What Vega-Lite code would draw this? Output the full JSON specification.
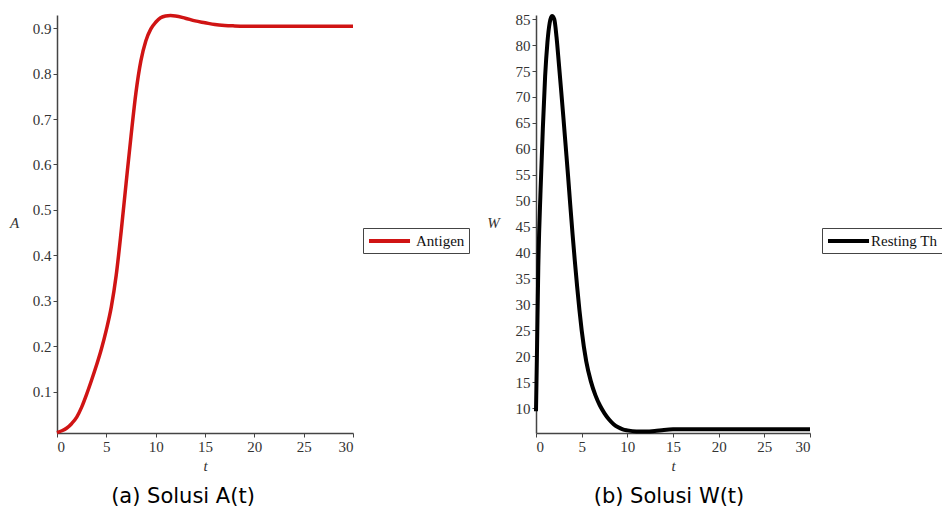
{
  "$schema": "https://vega.github.io/schema/vega-lite/v6.json",
  "background": "white",
  "padding": {"left": 9, "top": 8, "right": 0, "bottom": 0},
  "bounds": "flush",
  "spacing": 183,
  "datasets": {
    "antigen": [
      {"t": 0, "A": 0.010}, {"t": 0.5, "A": 0.014}, {"t": 1, "A": 0.020}, {"t": 1.5, "A": 0.030},
      {"t": 2, "A": 0.044}, {"t": 2.5, "A": 0.066}, {"t": 3, "A": 0.094}, {"t": 3.5, "A": 0.125},
      {"t": 4, "A": 0.158}, {"t": 4.5, "A": 0.194}, {"t": 5, "A": 0.236}, {"t": 5.5, "A": 0.286},
      {"t": 6, "A": 0.356}, {"t": 6.5, "A": 0.452}, {"t": 7, "A": 0.558}, {"t": 7.5, "A": 0.662},
      {"t": 8, "A": 0.758}, {"t": 8.5, "A": 0.828}, {"t": 9, "A": 0.872}, {"t": 9.5, "A": 0.898},
      {"t": 10, "A": 0.913}, {"t": 10.5, "A": 0.923}, {"t": 11, "A": 0.927}, {"t": 11.5, "A": 0.928},
      {"t": 12, "A": 0.927}, {"t": 13, "A": 0.922}, {"t": 14, "A": 0.916}, {"t": 15, "A": 0.912},
      {"t": 16, "A": 0.908}, {"t": 17, "A": 0.906}, {"t": 18, "A": 0.905}, {"t": 20, "A": 0.904},
      {"t": 22, "A": 0.904}, {"t": 25, "A": 0.904}, {"t": 30, "A": 0.904}
    ],
    "resting": [
      {"t": 0, "W": 9.4}, {"t": 0.1, "W": 20}, {"t": 0.25, "W": 37}, {"t": 0.5, "W": 52},
      {"t": 0.75, "W": 64}, {"t": 1, "W": 74}, {"t": 1.25, "W": 80.5}, {"t": 1.5, "W": 84.3},
      {"t": 1.75, "W": 85.6}, {"t": 2, "W": 85}, {"t": 2.25, "W": 81.5}, {"t": 2.5, "W": 76.5},
      {"t": 2.75, "W": 71.3}, {"t": 3, "W": 66}, {"t": 3.25, "W": 60.5}, {"t": 3.5, "W": 55},
      {"t": 3.75, "W": 49.2}, {"t": 4, "W": 43.6}, {"t": 4.25, "W": 38.4}, {"t": 4.5, "W": 33.5},
      {"t": 4.75, "W": 29}, {"t": 5, "W": 25}, {"t": 5.5, "W": 19}, {"t": 6, "W": 15.2},
      {"t": 6.5, "W": 12.5}, {"t": 7, "W": 10.5}, {"t": 7.5, "W": 9.0}, {"t": 8, "W": 7.8},
      {"t": 8.5, "W": 6.9}, {"t": 9, "W": 6.3}, {"t": 9.5, "W": 5.9}, {"t": 10, "W": 5.7},
      {"t": 11, "W": 5.5}, {"t": 12, "W": 5.5}, {"t": 13, "W": 5.6}, {"t": 14, "W": 5.8},
      {"t": 15, "W": 5.9}, {"t": 20, "W": 5.9}, {"t": 25, "W": 5.9}, {"t": 30, "W": 5.9}
    ]
  },
  "config": {
    "view": {"stroke": null},
    "axis": {
      "grid": false,
      "domainColor": "#444444",
      "domainWidth": 1.5,
      "tickColor": "#444444",
      "tickSize": 4,
      "tickWidth": 1,
      "labelFont": "Liberation Serif",
      "labelFontSize": 15,
      "labelColor": "#333333",
      "labelPadding": 2,
      "titleFont": "Liberation Serif",
      "titleFontStyle": "italic",
      "titleFontWeight": "normal",
      "titleFontSize": 15,
      "titleColor": "#333333"
    },
    "legend": {
      "orient": "none",
      "title": null,
      "strokeColor": "#444444",
      "fillColor": "white",
      "padding": 4,
      "cornerRadius": 0,
      "labelFont": "Liberation Serif",
      "labelFontSize": 15,
      "labelColor": "#111111",
      "symbolType": "M-1,0H4.86",
      "symbolSize": 196,
      "symbolStrokeWidth": 4
    },
    "title": {
      "font": "DejaVu Sans",
      "fontSize": 21,
      "fontWeight": "normal",
      "color": "#000000"
    }
  },
  "resolve": {"scale": {"color": "independent"}, "legend": {"color": "independent"}},
  "hconcat": [
    {
      "width": 296,
      "height": 418,
      "data": {"name": "antigen"},
      "title": {"text": "(a) Solusi A(t)", "orient": "bottom", "anchor": "middle", "frame": "group", "offset": 13, "dx": -22},
      "mark": {"type": "line", "strokeWidth": 3.5, "interpolate": "monotone", "clip": false},
      "encoding": {
        "x": {
          "field": "t", "type": "quantitative",
          "scale": {"domain": [0, 30], "nice": false},
          "axis": {"title": "t", "values": [0, 5, 10, 15, 20, 25, 30], "titlePadding": 4}
        },
        "y": {
          "field": "A", "type": "quantitative",
          "scale": {"domain": [0.009, 0.929], "nice": false, "zero": false},
          "axis": {"title": "A", "values": [0.1, 0.2, 0.3, 0.4, 0.5, 0.6, 0.7, 0.8, 0.9], "format": ".1f",
                   "titleAngle": 0, "titleX": -43, "titleY": 207, "titleAlign": "center", "titleBaseline": "middle"}
        },
        "color": {
          "datum": "Antigen", "type": "nominal",
          "scale": {"range": ["#d01414"]},
          "legend": {"legendX": 306, "legendY": 213, "labelOffset": 31}
        }
      }
    },
    {
      "width": 274,
      "height": 418,
      "data": {"name": "resting"},
      "title": {"text": "(b) Solusi W(t)", "orient": "bottom", "anchor": "middle", "frame": "group", "offset": 13, "dx": -4},
      "mark": {"type": "line", "strokeWidth": 4, "interpolate": "monotone", "clip": false},
      "encoding": {
        "x": {
          "field": "t", "type": "quantitative",
          "scale": {"domain": [0, 30], "nice": false},
          "axis": {"title": "t", "values": [0, 5, 10, 15, 20, 25, 30], "titlePadding": 4}
        },
        "y": {
          "field": "W", "type": "quantitative",
          "scale": {"domain": [5.2, 85.8], "nice": false, "zero": false},
          "axis": {"title": "W", "values": [10, 15, 20, 25, 30, 35, 40, 45, 50, 55, 60, 65, 70, 75, 80, 85],
                   "titleAngle": 0, "titleX": -43, "titleY": 207, "titleAlign": "center", "titleBaseline": "middle"}
        },
        "color": {
          "datum": "Resting Th", "type": "nominal",
          "scale": {"range": ["#000000"]},
          "legend": {"legendX": 286, "legendY": 213, "labelOffset": 27}
        }
      }
    }
  ]
}
